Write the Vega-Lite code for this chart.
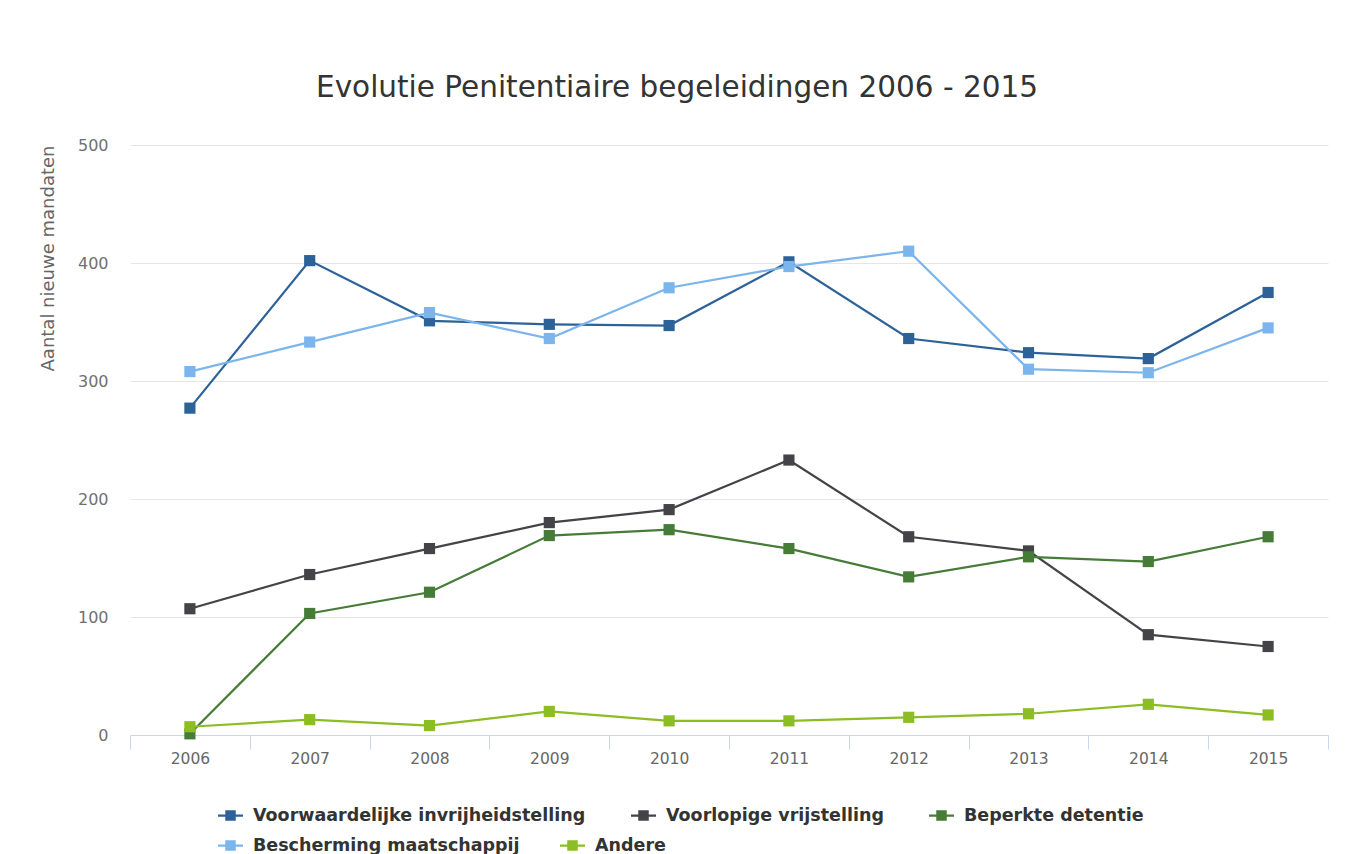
{
  "$schema": "https://vega.github.io/schema/vega-lite/v6.json",
  "width": 1198,
  "height": 590,
  "autosize": "none",
  "padding": {"left": 130, "top": 145, "right": 34, "bottom": 119},
  "background": "#ffffff",
  "title": {
    "text": "Evolutie Penitentiaire begeleidingen 2006 - 2015",
    "font": "DejaVu Sans",
    "fontSize": 29.5,
    "fontWeight": "normal",
    "color": "#333333",
    "anchor": "middle",
    "dx": -52,
    "offset": 34
  },
  "data": {
    "values": [
      {"year": "2006", "series": "Voorwaardelijke invrijheidstelling", "value": 277},
      {"year": "2007", "series": "Voorwaardelijke invrijheidstelling", "value": 402},
      {"year": "2008", "series": "Voorwaardelijke invrijheidstelling", "value": 351},
      {"year": "2009", "series": "Voorwaardelijke invrijheidstelling", "value": 348},
      {"year": "2010", "series": "Voorwaardelijke invrijheidstelling", "value": 347},
      {"year": "2011", "series": "Voorwaardelijke invrijheidstelling", "value": 401},
      {"year": "2012", "series": "Voorwaardelijke invrijheidstelling", "value": 336},
      {"year": "2013", "series": "Voorwaardelijke invrijheidstelling", "value": 324},
      {"year": "2014", "series": "Voorwaardelijke invrijheidstelling", "value": 319},
      {"year": "2015", "series": "Voorwaardelijke invrijheidstelling", "value": 375},
      {"year": "2006", "series": "Voorlopige vrijstelling", "value": 107},
      {"year": "2007", "series": "Voorlopige vrijstelling", "value": 136},
      {"year": "2008", "series": "Voorlopige vrijstelling", "value": 158},
      {"year": "2009", "series": "Voorlopige vrijstelling", "value": 180},
      {"year": "2010", "series": "Voorlopige vrijstelling", "value": 191},
      {"year": "2011", "series": "Voorlopige vrijstelling", "value": 233},
      {"year": "2012", "series": "Voorlopige vrijstelling", "value": 168},
      {"year": "2013", "series": "Voorlopige vrijstelling", "value": 156},
      {"year": "2014", "series": "Voorlopige vrijstelling", "value": 85},
      {"year": "2015", "series": "Voorlopige vrijstelling", "value": 75},
      {"year": "2006", "series": "Beperkte detentie", "value": 1},
      {"year": "2007", "series": "Beperkte detentie", "value": 103},
      {"year": "2008", "series": "Beperkte detentie", "value": 121},
      {"year": "2009", "series": "Beperkte detentie", "value": 169},
      {"year": "2010", "series": "Beperkte detentie", "value": 174},
      {"year": "2011", "series": "Beperkte detentie", "value": 158},
      {"year": "2012", "series": "Beperkte detentie", "value": 134},
      {"year": "2013", "series": "Beperkte detentie", "value": 151},
      {"year": "2014", "series": "Beperkte detentie", "value": 147},
      {"year": "2015", "series": "Beperkte detentie", "value": 168},
      {"year": "2006", "series": "Bescherming maatschappij", "value": 308},
      {"year": "2007", "series": "Bescherming maatschappij", "value": 333},
      {"year": "2008", "series": "Bescherming maatschappij", "value": 358},
      {"year": "2009", "series": "Bescherming maatschappij", "value": 336},
      {"year": "2010", "series": "Bescherming maatschappij", "value": 379},
      {"year": "2011", "series": "Bescherming maatschappij", "value": 397},
      {"year": "2012", "series": "Bescherming maatschappij", "value": 410},
      {"year": "2013", "series": "Bescherming maatschappij", "value": 310},
      {"year": "2014", "series": "Bescherming maatschappij", "value": 307},
      {"year": "2015", "series": "Bescherming maatschappij", "value": 345},
      {"year": "2006", "series": "Andere", "value": 7},
      {"year": "2007", "series": "Andere", "value": 13},
      {"year": "2008", "series": "Andere", "value": 8},
      {"year": "2009", "series": "Andere", "value": 20},
      {"year": "2010", "series": "Andere", "value": 12},
      {"year": "2011", "series": "Andere", "value": 12},
      {"year": "2012", "series": "Andere", "value": 15},
      {"year": "2013", "series": "Andere", "value": 18},
      {"year": "2014", "series": "Andere", "value": 26},
      {"year": "2015", "series": "Andere", "value": 17}
    ]
  },
  "encoding": {
    "x": {
      "field": "year",
      "type": "ordinal",
      "bandPosition": 0.5,
      "scale": {"type": "band", "paddingInner": 0, "paddingOuter": 0},
      "axis": {
        "title": null,
        "labelAngle": 0,
        "tickBand": "extent",
        "domainColor": "#ccd6eb",
        "tickColor": "#ccd6eb",
        "tickSize": 14,
        "labelPadding": 2,
        "labelFont": "DejaVu Sans",
        "labelFontSize": 15.5,
        "labelColor": "#666666",
        "grid": false
      }
    },
    "y": {
      "field": "value",
      "type": "quantitative",
      "scale": {"domain": [0, 500], "nice": false},
      "axis": {
        "title": "Aantal nieuwe mandaten",
        "titleFont": "DejaVu Sans",
        "titleFontSize": 18,
        "titleFontWeight": "normal",
        "titleColor": "#666666",
        "titleAnchor": "end",
        "titlePadding": 20,
        "values": [0, 100, 200, 300, 400, 500],
        "domain": false,
        "ticks": false,
        "labelPadding": 22,
        "labelFont": "DejaVu Sans",
        "labelFontSize": 16,
        "labelColor": "#707070",
        "gridColor": "#e6e6e6",
        "gridWidth": 1
      }
    }
  },
  "layer": [
    {
      "transform": [{"filter": {"field": "series", "oneOf": ["Voorwaardelijke invrijheidstelling", "Voorlopige vrijstelling", "Beperkte detentie"]}}],
      "mark": {
        "type": "line",
        "strokeWidth": 2.2,
        "point": {"shape": "square", "size": 125, "filled": true, "opacity": 1}
      },
      "encoding": {
        "color": {
          "field": "series",
          "type": "nominal",
          "scale": {
            "domain": ["Voorwaardelijke invrijheidstelling", "Voorlopige vrijstelling", "Beperkte detentie"],
            "range": ["#2d6298", "#434348", "#467c38"]
          },
          "legend": {
            "title": null,
            "orient": "none",
            "legendX": 88,
            "legendY": 658,
            "direction": "horizontal",
            "columns": 3,
            "columnPadding": 45,
            "labelFont": "DejaVu Sans",
            "labelFontSize": 17.5,
            "labelFontWeight": "bold",
            "labelColor": "#333333",
            "labelOffset": 10,
            "labelLimit": 600,
            "symbolType": "M-1,-0.09H1V0.09H-1Z M-0.42,-0.42H0.42V0.42H-0.42Z",
            "symbolSize": 625,
            "symbolStrokeWidth": 0,
            "encode": {
              "symbols": {
                "update": {
                  "fill": {"scale": "color", "field": "value"},
                  "strokeWidth": {"value": 0},
                  "opacity": {"value": 1}
                }
              }
            }
          }
        }
      }
    },
    {
      "transform": [{"filter": {"field": "series", "oneOf": ["Bescherming maatschappij", "Andere"]}}],
      "mark": {"type": "line", "strokeWidth": 2.2},
      "encoding": {
        "stroke": {
          "field": "series",
          "type": "nominal",
          "scale": {
            "domain": ["Bescherming maatschappij", "Andere"],
            "range": ["#7cb5ec", "#8cbd22"]
          },
          "legend": {
            "title": null,
            "orient": "none",
            "legendX": 88,
            "legendY": 688,
            "direction": "horizontal",
            "columns": 2,
            "columnPadding": 40,
            "labelFont": "DejaVu Sans",
            "labelFontSize": 17.5,
            "labelFontWeight": "bold",
            "labelColor": "#333333",
            "labelOffset": 10,
            "labelLimit": 600,
            "symbolType": "M-1,-0.09H1V0.09H-1Z M-0.42,-0.42H0.42V0.42H-0.42Z",
            "symbolSize": 625,
            "symbolStrokeWidth": 0,
            "encode": {
              "symbols": {
                "update": {
                  "fill": {"scale": "stroke", "field": "value"},
                  "strokeWidth": {"value": 0},
                  "opacity": {"value": 1}
                }
              }
            }
          }
        }
      }
    },
    {
      "transform": [{"filter": {"field": "series", "oneOf": ["Bescherming maatschappij", "Andere"]}}],
      "mark": {"type": "point", "shape": "square", "size": 125, "filled": true, "opacity": 1},
      "encoding": {
        "fill": {
          "field": "series",
          "type": "nominal",
          "scale": {
            "domain": ["Bescherming maatschappij", "Andere"],
            "range": ["#7cb5ec", "#8cbd22"]
          },
          "legend": null
        }
      }
    }
  ],
  "config": {
    "view": {"stroke": null}
  }
}
